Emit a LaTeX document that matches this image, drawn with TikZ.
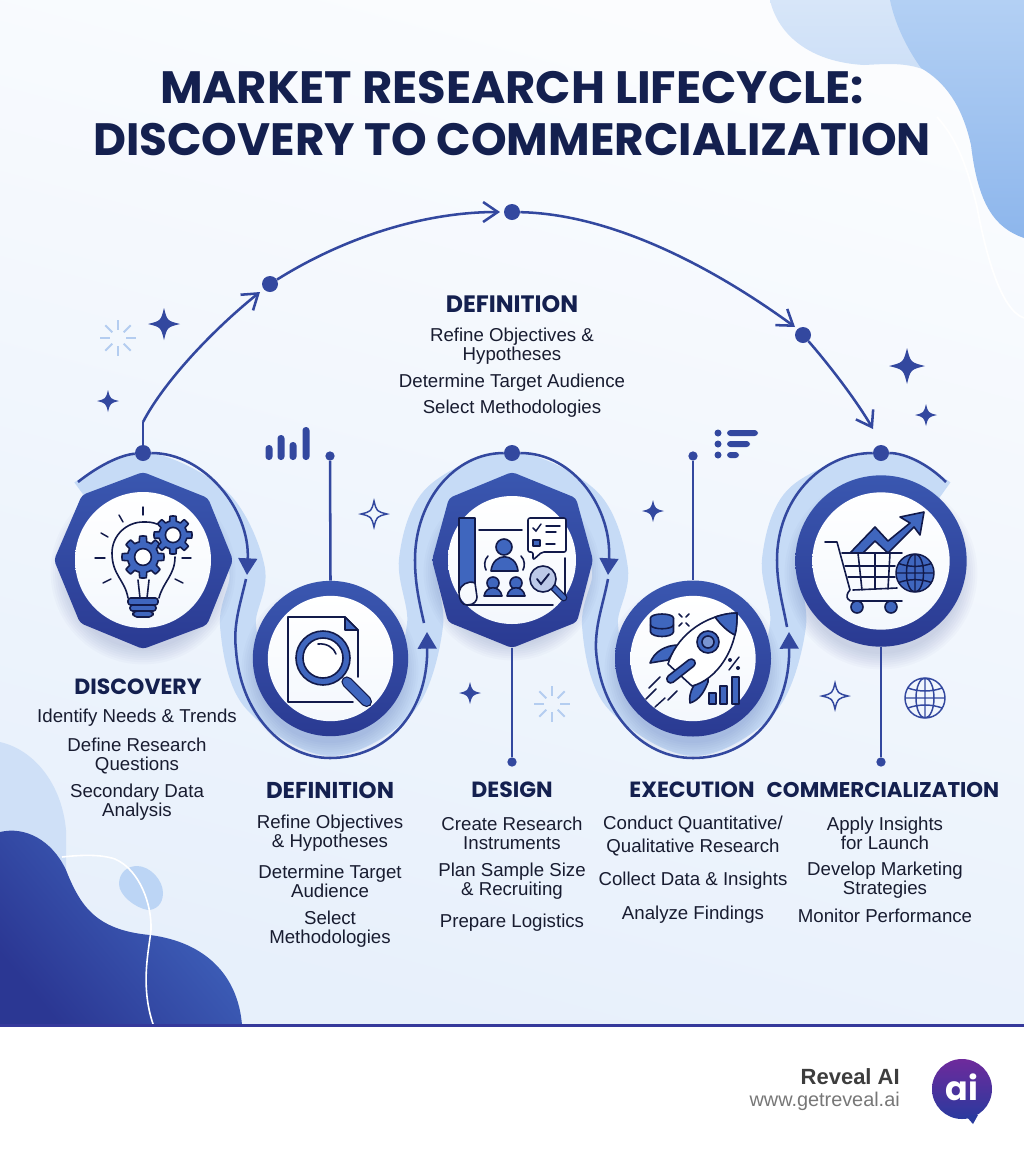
\documentclass[tikz,border=0pt]{standalone}
\usepackage{fontspec}
\setmainfont{Liberation Sans}
\newfontfamily\headfont{Poppins}
\usetikzlibrary{arrows.meta,shapes.geometric}
\definecolor{linec}{HTML}{33489F}
\definecolor{ringtop}{HTML}{3A57B0}
\definecolor{ringbot}{HTML}{2A3A92}
\definecolor{bandc}{HTML}{C6DBF6}
\definecolor{navy}{HTML}{14204F}
\definecolor{bodyc}{HTML}{181C30}
\definecolor{icofill}{HTML}{3F66BE}
\definecolor{icoline}{HTML}{121A4A}
\definecolor{spark}{HTML}{B4CDF0}
\definecolor{blobtop}{HTML}{B3D0F4}
\definecolor{blobbot}{HTML}{8DB6EC}
\definecolor{deepa}{HTML}{4269C2}
\definecolor{deepb}{HTML}{2B3793}
\definecolor{eggc}{HTML}{BCD5F5}
\definecolor{rulec}{HTML}{35399B}
\definecolor{brandc}{HTML}{3D3D3D}
\definecolor{urlc}{HTML}{777777}
\definecolor{logoa}{HTML}{6E2A9C}
\definecolor{logob}{HTML}{2A3A9E}
\tikzset{
  ser/.style={draw=linec,line width=1.9pt},
  openarrow/.style={ser,-{Straight Barb[length=11pt,width=15pt,line width=1.9pt]}},
  solidarrow/.style={ser,-{Triangle[length=12.5pt,width=14pt]}},
  bigdot/.style={circle,fill=linec,minimum size=12pt,inner sep=0pt},
  smalldot/.style={circle,fill=linec,minimum size=7pt,inner sep=0pt},
  ringnode/.style={circle,top color=ringtop,bottom color=ringbot,inner sep=0pt},
  facenode/.style={circle,top color=white,bottom color=white!80!bandc,inner sep=0pt},
  head/.style={font=\headfont\bfseries\fontsize{16.5}{18}\selectfont,text=navy,inner sep=0pt},
  body/.style={font=\fontsize{14}{14.25}\selectfont,text=bodyc,align=center,inner sep=0pt,yshift=-1.5pt},
  ico/.style={draw=icoline,line width=1.2pt,line join=round,line cap=round},
  icof/.style={ico,fill=icofill},
  ray/.style={draw=icoline,line width=1.1pt,line cap=round},
}
\newcommand{\softshadow}[3]{\foreach \i in {0,...,7}{\fill[ringbot,opacity=.022] (#1,#2+12) circle[radius=#3-3+\i*2.2];}}
\newcommand{\fourstar}[4][fill=linec]{\path[#1] (#2,#3-#4) .. controls (#2+.2*#4,#3-.2*#4) .. (#2+#4,#3) .. controls (#2+.2*#4,#3+.2*#4) .. (#2,#3+#4) .. controls (#2-.2*#4,#3+.2*#4) .. (#2-#4,#3) .. controls (#2-.2*#4,#3-.2*#4) .. cycle;}
\newcommand{\sparkle}[3]{\foreach \a in {0,45,...,315}{\draw[spark,line width=1.5pt] ({#1+.45*#3*cos(\a)},{#2+.45*#3*sin(\a)}) -- ({#1+#3*cos(\a)},{#2+#3*sin(\a)});}}
\newcommand{\gearicon}[3]{\draw[icof] plot[domain=0:360,samples=161,variable=\t] ({#1+#3*(.87+.13*sign(cos(8*\t)))*cos(\t)},{#2+#3*(.87+.13*sign(cos(8*\t)))*sin(\t)}) -- cycle; \draw[ico,fill=white] (#1,#2) circle[radius=#3*.4];}
\newcommand{\globeicon}[5]{\path[#4] (#1,#2) circle[radius=#3]; \path[#5] (#1,#2) circle[radius=#3] (#1,#2) ellipse[x radius=#3*.45,y radius=#3] (#1-#3,#2) -- (#1+#3,#2) (#1,#2-#3) -- (#1,#2+#3) (#1-#3*.86,#2-#3*.5) .. controls (#1-#3*.3,#2-#3*.3) and (#1+#3*.3,#2-#3*.3) .. (#1+#3*.86,#2-#3*.5) (#1-#3*.86,#2+#3*.5) .. controls (#1-#3*.3,#2+#3*.3) and (#1+#3*.3,#2+#3*.3) .. (#1+#3*.86,#2+#3*.5);}
\begin{document}
\begin{tikzpicture}[x=0.75pt,y=-0.75pt]
\useasboundingbox (0,0) rectangle (1024,1154);
% panel
\fill[white] (0,0) rectangle (1024,1154);
\shade[top color=white!70!bandc!25,bottom color=bandc!42!white,shading angle=-15] (0,0) rectangle (1024,1025);
% top right blobs
\shade[top color=bandc!70!white,bottom color=bandc!90!white] (770,0) .. controls (778,35) and (810,62) .. (864,65) .. controls (885,64) and (905,62) .. (925,70) -- (940,80) -- (1024,80) -- (1024,0) -- cycle;
\shade[top color=blobtop,bottom color=blobbot] (890,0) .. controls (895,25) and (908,50) .. (921,68) .. controls (945,82) and (962,105) .. (971,145) .. controls (978,205) and (995,228) .. (1024,238) -- (1024,0) -- cycle;
\draw[white,line width=1.3pt] (937,117) .. controls (958,140) and (968,170) .. (977,207) .. controls (985,250) and (1000,310) .. (1024,318);
% bottom left blobs
\fill[bandc!85!white] (0,742) .. controls (35,750) and (62,785) .. (66,830) -- (66,880) -- (0,880) -- cycle;
\shade[top color=deepa,bottom color=deepb,shading angle=-50] (0,832) .. controls (25,826) and (52,840) .. (66,870) .. controls (80,905) and (95,930) .. (150,935) .. controls (205,942) and (238,975) .. (242,1025) -- (0,1025) -- cycle;
\fill[eggc] (137,866) .. controls (150,866) and (163,880) .. (163,893) .. controls (163,905) and (155,910) .. (148,910) .. controls (135,908) and (119,895) .. (119,884) .. controls (119,873) and (127,866) .. (137,866) -- cycle;
\draw[white,line width=1.2pt] (62,857) .. controls (80,855) and (100,854) .. (115,859) .. controls (140,870) and (152,905) .. (151,930) .. controls (149,950) and (140,985) .. (153,1024);
% footer rule
\fill[rulec] (0,1024) rectangle (1024,1027);
% band
\draw[bandc,line width=27pt] plot[smooth,tension=.55] coordinates {(85,497) (143,470) (215,505) (247,570) (238,625) (258,695) (330,738) (400,700) (425,625) (417,560) (440,500) (512,470) (585,505) (610,570) (600,625) (620,695) (693,738) (762,700) (788,625) (780,560) (803,500) (881,470) (940,497)};
% shadows
\softshadow{143}{560}{80}\softshadow{330}{658}{76}\softshadow{512}{560}{76}\softshadow{693}{658}{76}\softshadow{881}{561}{84}
% hexagons and rings
\shade[top color=ringtop,bottom color=ringbot,rounded corners=3pt] (143,472) -- (208,498) -- (233,560) -- (207,625) -- (143,649) -- (80,623) -- (54,560) -- (82,495) -- cycle;
\shade[top color=white,bottom color=white!80!bandc] (143,560) circle[radius=68];
\coordinate (hexCtop) at (512,472);
\coordinate (hexCbot) at (512,648);
\shade[top color=ringtop,bottom color=ringbot,rounded corners=3pt] (hexCtop) -- (576,498) -- (593,560) -- (577,622) -- (hexCbot) -- (448,622) -- (432,560) -- (449,498) -- cycle;
\shade[top color=white,bottom color=white!80!bandc] (512,560) circle[radius=64];
\node[ringnode,minimum size=116.5pt] (ringB) at (330.5,658.5) {};
\node[facenode,minimum size=94pt] at (330.5,658.5) {};
\node[ringnode,minimum size=117pt] (ringD) at (693,658.5) {};
\node[facenode,minimum size=94pt] at (693,658.5) {};
\node[ringnode,minimum size=128.5pt] (ringE) at (881,561) {};
\node[facenode,minimum size=103pt] at (881,561) {};
% dots
\node[bigdot] (dA) at (143,453) {};
\node[bigdot] (dC) at (512,453) {};
\node[bigdot] (dE) at (881,453) {};
\node[bigdot] (tA) at (270,284) {};
\node[bigdot] (tB) at (512,212) {};
\node[bigdot] (tC) at (803,335) {};
\node[smalldot] (sB) at (330,456) {};
\node[smalldot] (sD) at (693,456) {};
\node[smalldot] (sC) at (512,762) {};
\node[smalldot] (sE) at (881,762) {};
\draw[ser] (sB) -- (ringB.north);
\draw[ser] (sD) -- (ringD.north);
\draw[ser] (hexCbot) -- (sC);
\draw[ser] (ringE.south) -- (sE);
% top arc
\coordinate (aStart) at (143,422);
\coordinate (tipA) at (260,292);
\coordinate (tipB) at (500,212);
\coordinate (tipC) at (795,327);
\coordinate (tipD) at (873,429);
\draw[ser] (dA) -- (aStart);
\draw[openarrow] (aStart) .. controls (165,380) and (215,328) .. (tipA);
\draw[openarrow] (tA) .. controls (340,240) and (420,212) .. (tipB);
\draw[openarrow] (tB) .. controls (610,214) and (710,265) .. (tipC);
\draw[openarrow] (tC) .. controls (825,360) and (855,398) .. (tipD);
% serpentine
\coordinate (sA0) at (78,482);
\coordinate (a1) at (247,575); \coordinate (a1b) at (246,579);
\coordinate (bot1) at (330,758);
\coordinate (a2) at (427,632); \coordinate (a2b) at (424,623);
\coordinate (a3) at (608,575); \coordinate (a3b) at (608,579);
\coordinate (bot2) at (693,758);
\coordinate (a4) at (789,632); \coordinate (a4b) at (787,627);
\coordinate (sE9) at (946,482);
\draw[ser] (sA0) .. controls (98,466) and (120,455) .. (dA);
\draw[solidarrow] (dA) .. controls (205,453) and (250,510) .. (a1);
\draw[ser] (a1b) .. controls (240,605) and (233,625) .. (236,650) .. controls (240,710) and (280,758) .. (bot1);
\draw[solidarrow] (bot1) .. controls (385,758) and (428,715) .. (a2);
\draw[ser] (a2b) .. controls (420,605) and (415,585) .. (415,560) .. controls (415,500) and (455,453) .. (dC);
\draw[solidarrow] (dC) .. controls (575,453) and (612,510) .. (a3);
\draw[ser] (a3b) .. controls (603,605) and (595,625) .. (596,650) .. controls (600,710) and (640,758) .. (bot2);
\draw[solidarrow] (bot2) .. controls (748,758) and (790,715) .. (a4);
\draw[ser] (a4b) .. controls (783,605) and (777,585) .. (777,560) .. controls (777,500) and (820,453) .. (dE);
\draw[ser] (dE) .. controls (905,453) and (928,464) .. (sE9);
% decorations
\fourstar{164}{324}{16}\fourstar{108}{401}{11}\fourstar{907}{366}{18}\fourstar{926}{415}{11}
\fourstar{653}{511}{11}\fourstar{470}{693}{11}
\fourstar[draw=linec,fill=none,line width=1.1pt]{374}{514}{13}
\fourstar[draw=linec,fill=none,line width=1.1pt]{835}{696}{13}
\sparkle{118}{338}{18}\sparkle{552}{704}{18}
\globeicon{925}{698}{20}{fill=none}{draw=linec,line width=1.1pt}
% mini chart
\foreach \bx/\bt in {269/445,281/435,293/442,306/427}{\fill[linec,rounded corners=2.5pt] (\bx-3.5,\bt) rectangle (\bx+3.5,460);}
% mini list
\foreach \ly/\lx in {433/758,444/750,455/739}{\fill[linec] (718,\ly) circle[radius=3.5]; \fill[linec,rounded corners=2.5pt] (727,\ly-3) rectangle (\lx,\ly+3);}
% icon 1 bulb
\draw[ico] (128,598) .. controls (125,580) and (112,575) .. (112,553) .. controls (112,535) and (127,522) .. (143,522) .. controls (148,522) and (152,522) .. (157,524);
\draw[ico] (175,557) .. controls (175,575) and (163,582) .. (159,598);
\draw[ico] (138,580) -- (140,598) (149,580) -- (147,598);
\draw[icof,rounded corners=2pt] (128,598) rectangle (158,605);
\draw[icof,rounded corners=2pt] (130,605) rectangle (156,611);
\draw[icof,rounded corners=3pt] (133,611) rectangle (153,617);
\foreach \xa/\ya/\xb/\yb in {143/507/143/515,119/515/123/522,101/533/108/537,95/558/105/558,103/583/111/579,175/579/183/583,182/558/191/558}{\draw[ray] (\xa,\ya) -- (\xb,\yb);}
\gearicon{143}{557}{21}\gearicon{173}{535}{19}
% icon 2 document and lens
\draw[ico] (288,617) -- (345,617) -- (358,630) -- (358,677);
\draw[ico] (288,617) -- (288,702) -- (353,702);
\draw[icof] (345,617) -- (358,630) -- (345,630) -- cycle;
\draw[ico,line width=.8pt,fill=icofill,rounded corners=4pt,rotate around={-45:(356,691)}] (338,686) rectangle (376,696);
\draw[ico,fill=icofill] (323,658) circle[radius=27];
\draw[ico,fill=white] (323,658) circle[radius=20];
\draw[ico] (318,644) .. controls (327,643) and (334,648) .. (336,654);
% icon 3 plan and people
\draw[icof] (459,518) -- (475,518) -- (475,583) .. controls (468,580) and (460,585) .. (459,592) -- cycle;
\draw[ico] (459,592) .. controls (459,600) and (462,605) .. (467,605) -- (553,605);
\draw[ico] (475,583) -- (477,597) .. controls (477,601) and (474,605) .. (467,605);
\draw[ico] (479,530) -- (522,530);
\draw[ico] (565,558) -- (565,597);
\draw[icof] (504,547) circle[radius=8];
\draw[icof] (491,571) .. controls (493,552) and (516,552) .. (518,571) -- cycle;
\draw[ico] (488,556) .. controls (484,560) and (484,566) .. (486,570) (521,556) .. controls (525,560) and (525,566) .. (523,570);
\draw[icof] (493,583) circle[radius=6];
\draw[icof] (516,583) circle[radius=6];
\draw[icof] (484,596) .. controls (486,585) and (500,585) .. (502,596) -- cycle;
\draw[icof] (507,596) .. controls (509,585) and (523,585) .. (525,596) -- cycle;
\draw[ico,fill=white,rounded corners=1.5pt] (528,518) -- (566,518) -- (566,552) -- (542,552) -- (533,560) -- (533,552) -- (528,552) -- cycle;
\draw[ray] (533,528) -- (536,531) -- (541,524);
\draw[ray] (546,526) -- (560,526) (546,532) -- (556,532) (546,544) -- (555,544);
\draw[ico,fill=icofill] (533,540) rectangle (540,546);
\draw[icof,line width=.8pt,rounded corners=2pt,rotate around={-45:(558,592)}] (546,589) rectangle (569,595);
\draw[ico,fill=icofill!35!white] (543,579) circle[radius=13];
\draw[ray,line width=1.4pt] (537,579) -- (541,584) -- (549,574);
% icon 4 rocket
\draw[icof] (650,663) .. controls (654,652) and (665,645) .. (679,645) -- (668,660) -- cycle;
\draw[icof] (690,703) .. controls (688,692) and (695,680) .. (708,672) -- (708,682) .. controls (705,690) and (700,700) .. (690,703) -- cycle;
\draw[ico,fill=white] (737,613) .. controls (700,615) and (675,640) .. (668,664) -- (692,686) .. controls (716,680) and (738,650) .. (737,613) -- cycle;
\draw[icof] (737,613) .. controls (728,613) and (721,615) .. (715,617) .. controls (720,624) and (728,632) .. (735,635) .. controls (737,628) and (737,620) .. (737,613) -- cycle;
\draw[icof] (708,642) circle[radius=11];
\draw[ico,fill=white!30!icofill] (708,642) circle[radius=6];
\draw[icof,rounded corners=3pt,rotate around={38:(681,671)}] (664,667) rectangle (698,675);
\draw[ray] (649,688) -- (660,677) (646,699) -- (656,689) (655,707) -- (665,698) (668,700) -- (677,691);
\draw[icof] (662,618) ellipse[x radius=11.5,y radius=4];
\draw[ico,fill=icofill] (650.5,618) -- (650.5,632) .. controls (652,638) and (672,638) .. (673.5,632) -- (673.5,618);
\draw[ico] (650.5,625) .. controls (652,630) and (672,630) .. (673.5,625);
\draw[ray] (679,614) -- (682,617) (689,614) -- (686,617) (679,626) -- (682,623) (689,626) -- (686,623);
\draw[ray] (739,657) -- (729,670);
\fill[icoline] (730,660) circle[radius=2] (738,668) circle[radius=2];
\draw[icof] (709,693) rectangle (716,704);
\draw[icof] (720,686) rectangle (727,704);
\draw[icof] (732,677) rectangle (739,704);
% icon 5 cart
\draw[icof] (850,553) -- (875,527) -- (888,541) -- (910,523) -- (900,517) -- (924,512) -- (920,535) -- (914,527) -- (888,553) -- (875,541) -- (863,553) -- cycle;
\draw[ico] (825,542) -- (837,542) -- (850,590) .. controls (847,593) and (846,597) .. (848,599) .. controls (849,601) and (851,601) .. (853,601) -- (902,601);
\draw[ico] (853,590) -- (897,588);
\draw[ico] (842,553) -- (902,553);
\draw[ico] (845,566) -- (895,566) (848,577) -- (895,577);
\draw[ico] (858,553) -- (862,590) (875,553) -- (875,589) (890,553) -- (888,589);
\draw[icof] (857,607) circle[radius=6];
\draw[icof] (891,607) circle[radius=6];
\globeicon{915}{573}{19}{fill=icofill}{draw=icoline,line width=1.1pt}
% title
\node[font=\headfont\bfseries\fontsize{34}{36}\selectfont,text=navy,inner sep=0pt] (title1) at (512,88) {\scalebox{1.025}[1]{MARKET RESEARCH LIFECYCLE:}};
\node[font=\headfont\bfseries\fontsize{34}{36}\selectfont,text=navy,inner sep=0pt] (title2) at (512,140) {DISCOVERY TO COMMERCIALIZATION};
% headings
\node[head,font=\headfont\bfseries\fontsize{17.8}{18}\selectfont] (hTop) at (512,304) {DEFINITION};
\node[head] (hA) at (138,687) {DISCOVERY};
\node[head,font=\headfont\bfseries\fontsize{17.2}{18}\selectfont] (hB) at (330,790) {DEFINITION};
\node[head] (hC) at (512,790) {DESIGN};
\node[head] (hD) at (692,790) {EXECUTION};
\node[head,font=\headfont\bfseries\fontsize{16}{18}\selectfont] (hE) at (883,790) {COMMERCIALIZATION};
% text
\node[body] (t1) at (512,344.5) {Refine Objectives \&\\Hypotheses};
\node[body] (t2) at (512,381) {Determine Target Audience};
\node[body] (t3) at (512,407) {Select Methodologies};
\node[body] (a1t) at (137,716) {Identify Needs \& Trends};
\node[body] (a2t) at (137,753.5) {Define Research\\Questions};
\node[body] (a3t) at (137,800.5) {Secondary Data\\Analysis};
\node[body] (b1t) at (330,831.5) {Refine Objectives\\\& Hypotheses};
\node[body] (b2t) at (330,879) {Determine Target\\Audience};
\node[body] (b3t) at (330,927) {Select\\Methodologies};
\node[body] (c1t) at (512,831.5) {Create Research\\Instruments};
\node[body] (c2t) at (512,879.5) {Plan Sample Size\\\& Recruiting};
\node[body] (c3t) at (512,921) {Prepare Logistics};
\node[body,font=\fontsize{14}{17.25}\selectfont] (d1t) at (693,833.5) {Conduct Quantitative/\\Qualitative Research};
\node[body] (d2t) at (693,879) {Collect Data \& Insights};
\node[body] (d3t) at (693,913) {Analyze Findings};
\node[body] (e1t) at (885,831.5) {Apply Insights\\for Launch};
\node[body] (e2t) at (885,878) {Develop Marketing\\Strategies};
\node[body] (e3t) at (885,914) {Monitor Performance};
% footer
\node[anchor=base east,font=\bfseries\fontsize{16.5}{20}\selectfont,text=brandc,inner sep=0pt] (brand) at (900,1084) {Reveal AI};
\node[anchor=base east,font=\fontsize{14.9}{18}\selectfont,text=urlc,inner sep=0pt] (url) at (900,1106) {www.getreveal.ai};
\shade[top color=logoa,bottom color=logob] (962,1089) circle[radius=30];
\fill[logob] (966,1116) -- (978,1115) -- (973,1124) -- cycle;
\node[font=\headfont\bfseries\fontsize{25}{28}\selectfont,text=white,inner sep=0pt] (logo) at (962,1087) {ai};
\end{tikzpicture}
\end{document}
